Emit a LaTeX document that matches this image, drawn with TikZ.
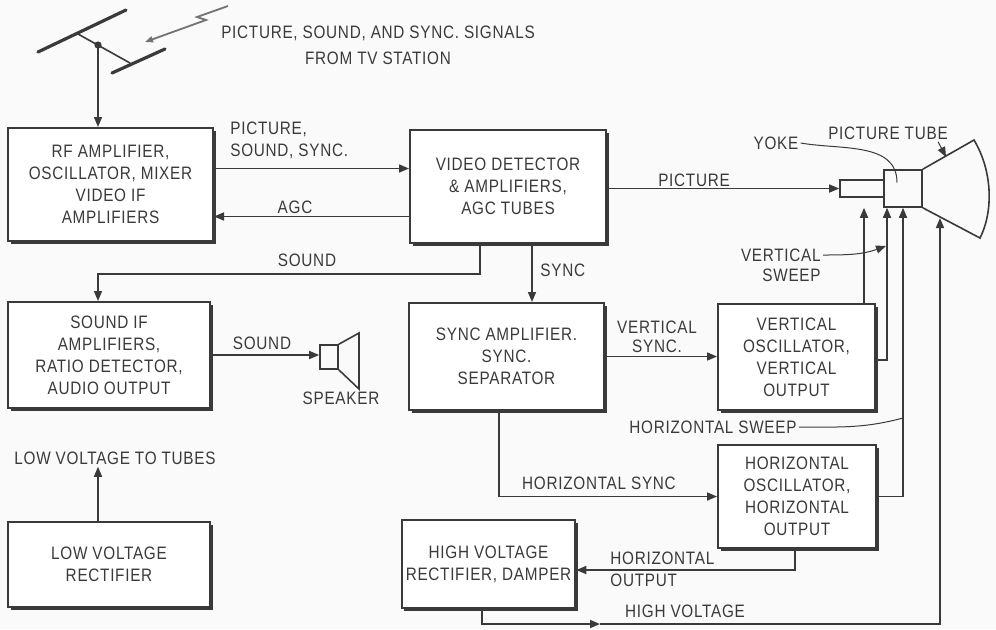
\documentclass[tikz,border=0pt]{standalone}
\usepackage{fontspec}
\setmainfont{Liberation Sans}[FakeStretch=0.85,LetterSpace=4]
\usetikzlibrary{arrows.meta,shadows}
\definecolor{linje}{HTML}{3A3A3A}
\definecolor{bakgrunn}{HTML}{FAFAFA}
\tikzset{
	boks/.style={draw,line width=1pt,fill=white,align=center,inner sep=2pt,
		drop shadow={shadow xshift=1.3pt,shadow yshift=-1.3pt,fill=linje,opacity=1}},
	pil/.style={line width=0.8pt,-{Triangle[length=5pt,width=4pt]}},
	tynn/.style={line width=0.5pt},
	tekst/.style={inner sep=1pt,align=center}
}
\begin{document}
\begin{tikzpicture}[x=0.5pt,y=-0.5pt,color=linje,font=\fontsize{9}{11}\selectfont]
	% Bakgrunn
	\fill[bakgrunn] (0,0) rectangle (996,629);
	\useasboundingbox (0,0) rectangle (996,629);
	% Antenne og signal
	\draw[line width=1.6pt,line cap=round] (38,52) -- (126,10);
	\draw[line width=1.6pt,line cap=round] (112,73) -- (165,49);
	\draw[line width=0.8pt] (78,34) -- (130,63);
	\coordinate (mate) at (98,45);
	\fill (mate) circle (1.8pt);
	\draw[line width=0.9pt,color=black!55,-{Triangle[length=4pt,width=3pt]}] (228,6) -- (197,17) -- (206,20) -- (145,42);
	\node[tekst,font=\fontsize{9}{13}\selectfont] (tittel) at (378,45) {PICTURE, SOUND, AND SYNC. SIGNALS\\FROM TV STATION};
	% Blokker
	\node[boks,minimum width=102.5pt,minimum height=56.5pt] (rf) at (110.5,184.5) {RF AMPLIFIER,\\OSCILLATOR, MIXER\\VIDEO IF\\AMPLIFIERS};
	\node[boks,minimum width=98pt,minimum height=56.5pt] (vd) at (508,186.5) {VIDEO DETECTOR\\\& AMPLIFIERS,\\AGC TUBES};
	\node[boks,minimum width=101pt,minimum height=53pt] (snd) at (109,355) {SOUND IF\\AMPLIFIERS,\\RATIO DETECTOR,\\AUDIO OUTPUT};
	\node[boks,minimum width=97.5pt,minimum height=53.5pt] (sync) at (506.5,356.5) {SYNC AMPLIFIER.\\SYNC.\\SEPARATOR};
	\node[boks,minimum width=78.5pt,minimum height=53pt] (vo) at (796.5,357) {VERTICAL\\OSCILLATOR,\\VERTICAL\\OUTPUT};
	\node[boks,minimum width=79pt,minimum height=51.5pt] (ho) at (797,496.5) {HORIZONTAL\\OSCILLATOR,\\HORIZONTAL\\OUTPUT};
	\node[boks,minimum width=83.5pt,minimum height=44pt] (hv) at (488.5,564) {HIGH VOLTAGE\\RECTIFIER, DAMPER};
	\node[boks,minimum width=101pt,minimum height=42.5pt] (lv) at (109,564.5) {LOW VOLTAGE\\RECTIFIER};
	% Bilderør og høyttaler
	\node[draw,line width=0.8pt,minimum width=22pt,minimum height=8.5pt,inner sep=0pt] (hals) at (862,188.5) {};
	\node[draw,line width=0.8pt,minimum width=19pt,minimum height=18.5pt,inner sep=0pt] (yoke) at (903,188.5) {};
	\draw[line width=0.8pt] (yoke.north east) -- (974,140) .. controls (992,170) and (994,210) .. (980,238) -- (yoke.south east);
	\node[draw,line width=0.8pt,minimum width=9pt,minimum height=12pt,inner sep=0pt] (spk) at (329,357) {};
	\draw[line width=0.8pt] (spk.north east) -- (359,333) -- (359,389) -- (spk.south east);
	% Etiketter
	\node[tekst,align=left,anchor=west] (psslbl) at (228,140) {PICTURE,\\SOUND, SYNC.};
	\node[tekst] (agclbl) at (295,207) {AGC};
	\node[tekst] (lydlbl) at (307,260) {SOUND};
	\node[tekst,anchor=west] (synclbl) at (538,270) {SYNC};
	\node[tekst] (bildelbl) at (694,180) {PICTURE};
	\node[tekst] (yokelbl) at (776,143) {YOKE};
	\node[tekst] (rorlbl) at (888,133) {PICTURE TUBE};
	\node[tekst,align=right,anchor=east,font=\fontsize{9}{10}\selectfont] (vsveiplbl) at (823,265) {VERTICAL\\SWEEP};
	\node[tekst] (lyd2lbl) at (262,343) {SOUND};
	\node[tekst] (hoytalerlbl) at (341,398) {SPEAKER};
	\node[tekst,font=\fontsize{9}{9.5}\selectfont] (vsynclbl) at (657,337) {VERTICAL\\SYNC.};
	\node[tekst] (hsveiplbl) at (713,427) {HORIZONTAL SWEEP};
	\node[tekst] (hsynclbl) at (599,483) {HORIZONTAL SYNC};
	\node[tekst,align=left,anchor=west] (hutlbl) at (608,569.5) {HORIZONTAL\\OUTPUT};
	\node[tekst] (hvlbl) at (685,611) {HIGH VOLTAGE};
	\node[tekst] (lvlbl) at (115,458) {LOW VOLTAGE TO TUBES};
	% Forbindelser
	\draw[pil] (mate) -- (mate |- rf.north);
	\draw[pil] ([yshift=8pt]rf.east) -- ([yshift=8pt]rf.east -| vd.west);
	\draw[pil] ([yshift=-15pt]vd.west) -- ([yshift=-15pt]vd.west -| rf.east);
	\draw[pil] ([xshift=-14pt]vd.south) -- ++(0,30) -| ([xshift=-5.5pt]snd.north);
	\draw[pil] ([xshift=12pt]vd.south) -- ([xshift=12pt]vd.south |- sync.north);
	\draw[pil] (vd.east |- hals.west) -- (hals.west);
	\draw[pil] (snd.east) -- (snd.east -| spk.west);
	\draw[pil] (sync.east) -- (sync.east -| vo.west);
	\draw[pil] ([xshift=33.75pt]vo.north) -- ([xshift=33.75pt]vo.north |- yoke.south);
	\draw[pil] ([yshift=-1.5pt]vo.east) -| ([xshift=-8pt]yoke.south);
	\draw[pil] (ho.east) -| (yoke.south);
	\draw[pil] ([xshift=-3.75pt]sync.south) |- (ho.west);
	\draw[pil] ([xshift=-1pt]ho.south) |- ([yshift=-3pt]hv.east);
	\coordinate (hvpil) at (600,624);
	\coordinate (kjegle) at (940,218);
	\draw[pil] ([xshift=-3.25pt]hv.south) |- (hvpil);
	\draw[pil] (hvpil) -| (kjegle);
	\draw[pil] ([xshift=-5.5pt]lv.north) -- ([xshift=-5.5pt]lv.north |- lvlbl.south);
	% Ledelinjer
	\coordinate (vtreff) at (886,246);
	\coordinate (htreff) at (903,418);
	\coordinate (rortreff) at (946,157);
	\draw[tynn] (yokelbl.east) to[out=-10,in=90] ([xshift=-3pt,yshift=3pt]yoke.center);
	\draw[tynn,-{Triangle[length=5pt,width=4pt]}] ([xshift=-6pt]rorlbl.south east) -- (rortreff);
	\draw[tynn,-{Triangle[length=5pt,width=4pt]}] ([yshift=5pt]vsveiplbl.east) to[out=0,in=200] (vtreff);
	\draw[tynn] (hsveiplbl.east) to[out=0,in=195] (htreff);
\end{tikzpicture}
\end{document}
